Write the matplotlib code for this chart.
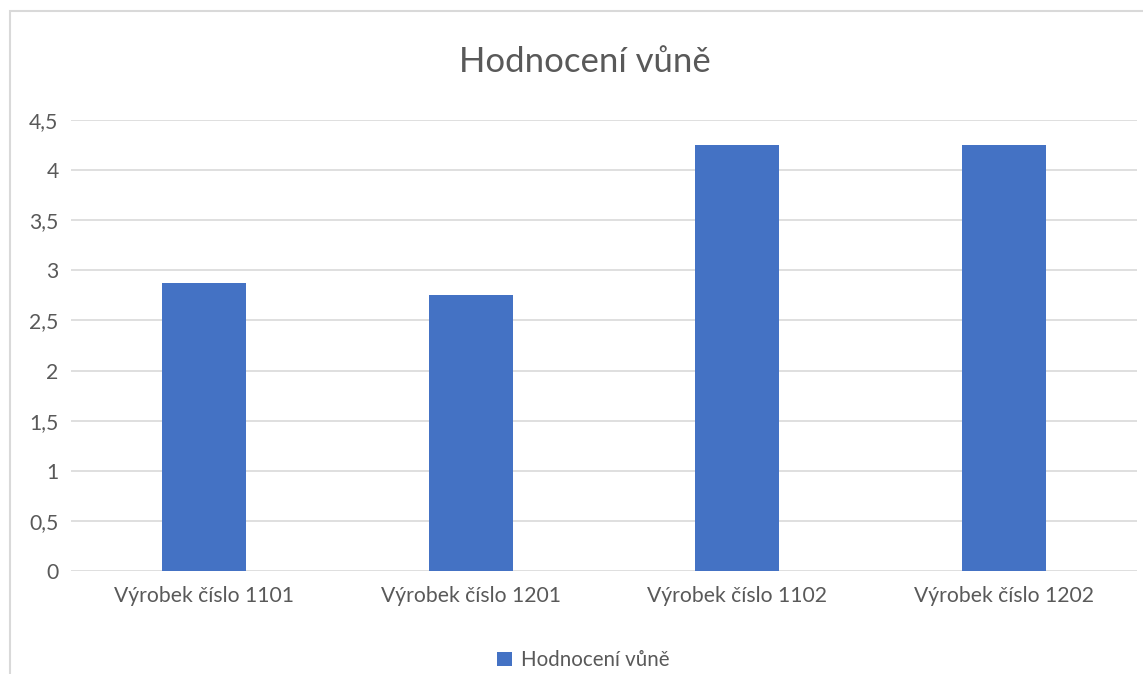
import matplotlib
matplotlib.use('Agg')
from matplotlib import pyplot as plt
from matplotlib.patches import Rectangle

categories = ['Výrobek číslo 1101', 'Výrobek číslo 1201', 'Výrobek číslo 1102', 'Výrobek číslo 1202']
values = [2.875, 2.75, 4.25, 4.25]
series_name = 'Hodnocení vůně'
yticks = [0, 0.5, 1, 1.5, 2, 2.5, 3, 3.5, 4, 4.5]
ytick_labels = ['0', '0,5', '1', '1,5', '2', '2,5', '3', '3,5', '4', '4,5']

textColor = '#595959'
gridColor = '#d9d9d9'
barColor = '#4472C4'

plt.rcParams['font.family'] = ['Lato', 'DejaVu Sans']

fig = plt.figure(figsize=(11.43, 6.74), dpi=100)
# outer chart frame
fig.patches.append(Rectangle((10 / 1143, -0.1), 1.2, 1 - 11 / 674 + 0.1, transform=fig.transFigure,
                             fill=False, edgecolor=gridColor, linewidth=1.5))

ax = fig.add_axes([71 / 1143, 1 - 571 / 674, (1137 - 71) / 1143, (571 - 120) / 674])
x = range(len(categories))
ax.bar(x, values, width=0.315, color=barColor, label=series_name, zorder=3)
ax.set_xlim(-0.5, len(categories) - 0.5)
ax.set_ylim(0, 4.5)
ax.set_yticks(yticks)
ax.set_yticklabels(ytick_labels)
ax.set_xticks(list(x))
ax.set_xticklabels(categories)
ax.tick_params(axis='both', length=0, labelsize=15.2, colors=textColor)
ax.tick_params(axis='y', pad=9)
ax.tick_params(axis='x', pad=11)
ax.grid(axis='y', color=gridColor, linewidth=1.2, zorder=0)
for s in ax.spines.values():
    s.set_visible(False)

fig.text(585 / 1143, 1 - 62 / 674, 'Hodnocení vůně', ha='center', va='center', fontsize=25, color=textColor)
ax.legend(loc='center', bbox_to_anchor=((583.5 - 71) / 1066, (571 - 660) / 451), frameon=False, fontsize=14.8,
          labelcolor=textColor, handlelength=0.7, handleheight=0.7, handletextpad=0.45)

fig.savefig('out.png', dpi=100)
